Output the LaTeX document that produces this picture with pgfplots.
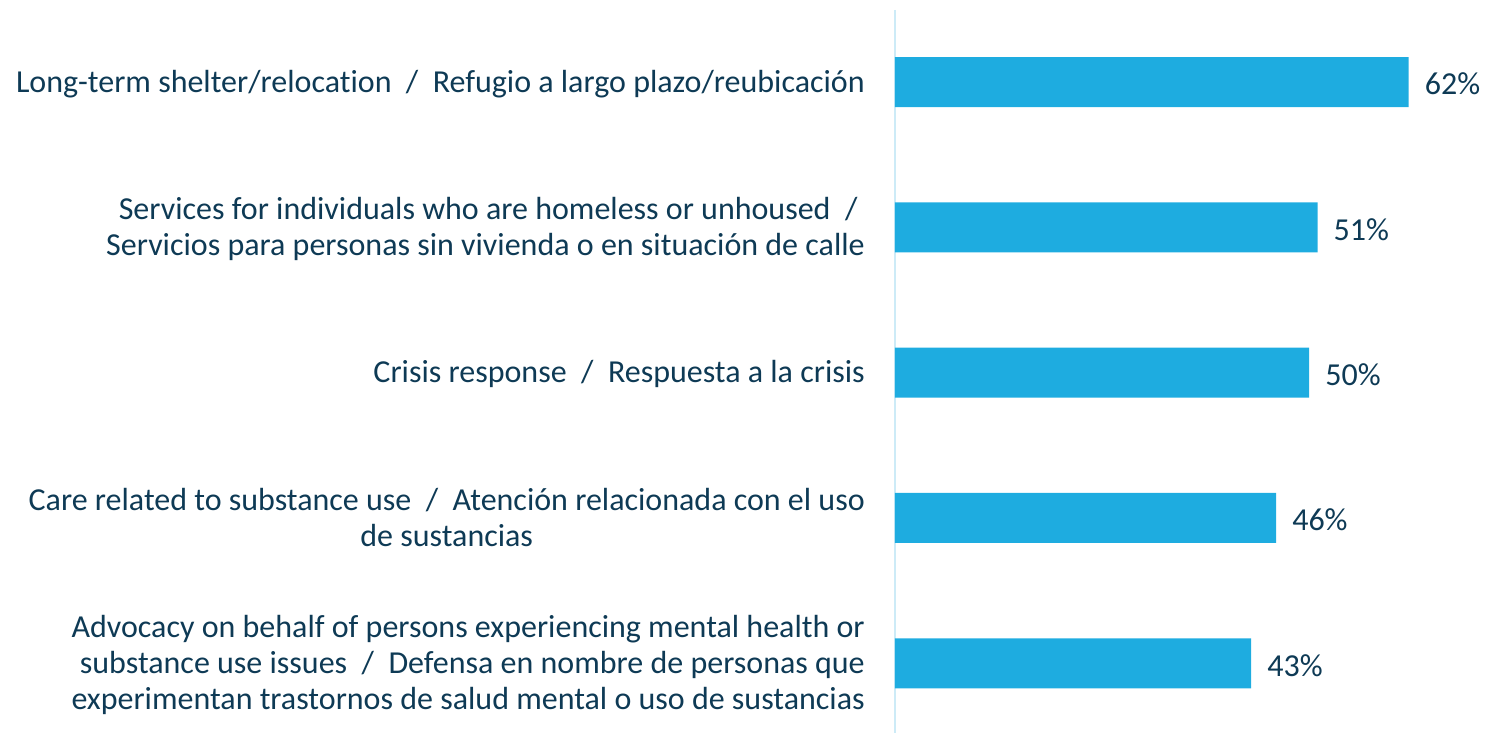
\documentclass[border=0pt]{standalone}
\usepackage{fontspec}
\setmainfont{Carlito}[Ligatures=NoCommon]
\usepackage{pgfplots}
\pgfplotsset{compat=1.18}
\definecolor{barblue}{HTML}{1EACE0}
\definecolor{axisblue}{HTML}{CDEBF7}
\definecolor{txt}{HTML}{0E3A55}
\newcommand{\sep}{~~/~~}
\begin{document}
\fontsize{32}{36}\selectfont
\begin{tikzpicture}
\begin{axis}[
    scale only axis,
    width=599pt, height=723pt,
    xbar, bar width=50pt,
    xmin=0, xmax=72.3,
    ymin=-0.496, ymax=4.48,
    y dir=reverse,
    axis x line=none,
    axis y line=left,
    y axis line style={-, draw=axisblue, line width=2.5pt},
    ytick={0,1,2,3,4},
    major tick length=0pt,
    yticklabel style={inner sep=0pt, xshift=-30pt, yshift=-3pt, text=txt, font=\fontsize{32}{36}\selectfont},
    yticklabels={
      {\begin{tabular}{@{}r@{}}Long-term shelter/relocation\sep Refugio a largo plazo/reubicación\end{tabular}},
      {\begin{tabular}{@{}r@{}}Services for individuals who are homeless or unhoused\sep\\ Servicios para personas sin vivienda o en situación de calle\end{tabular}},
      {\begin{tabular}{@{}r@{}}Crisis response\sep Respuesta a la crisis\end{tabular}},
      {\begin{tabular}{@{}c@{}}Care related to substance use\sep Atención relacionada con el uso\\ de sustancias\end{tabular}},
      {\begin{tabular}{@{}r@{}}Advocacy on behalf of persons experiencing mental health or\\ substance use issues\sep Defensa en nombre de personas que\\ experimentan trastornos de salud mental o uso de sustancias\end{tabular}}
    },
    nodes near coords={\pgfmathprintnumber{\pgfplotspointmeta}\%},
    /pgf/number format/assume math mode=true,
    every node near coord/.append style={anchor=west, inner sep=0pt, xshift=16pt, yshift=-2pt, text=txt, font=\fontsize{32}{36}\selectfont},
  ]
\addplot[fill=barblue, draw=none] coordinates {(62,0) (51,1) (50,2) (46,3) (43,4)};
\end{axis}
\pgfresetboundingbox
\path ([xshift=-895pt]current axis.south west) rectangle ([yshift=10pt]current axis.north east);
\end{tikzpicture}
\end{document}
